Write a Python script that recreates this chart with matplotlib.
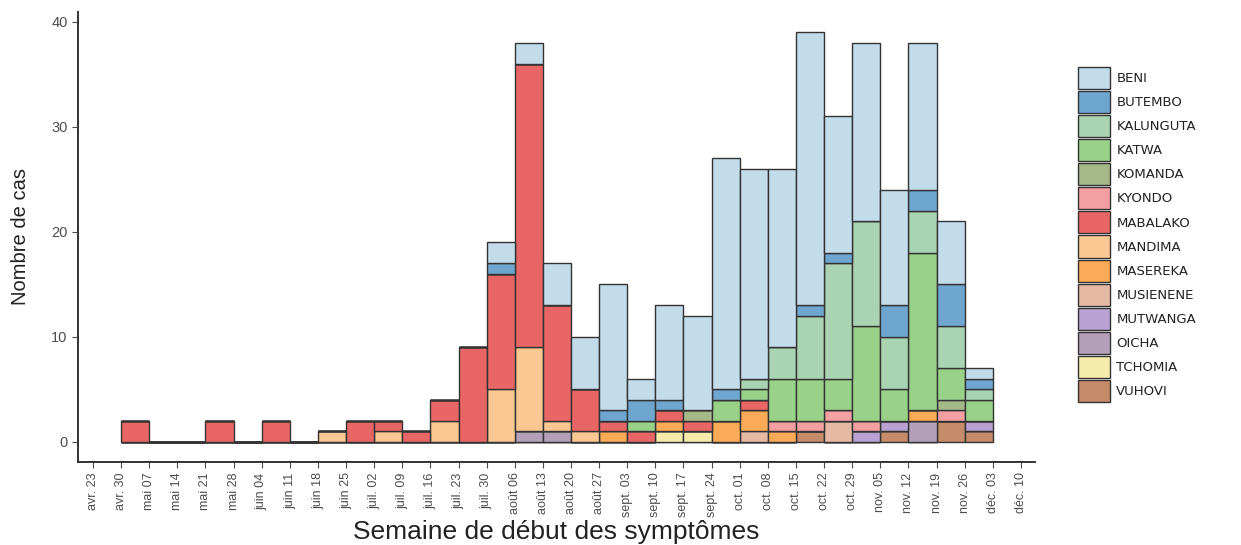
import matplotlib.pyplot as plt
import numpy as np

# weeks (start date of each week shown on the x axis)
week_labels = ['avr. 23', 'avr. 30', 'mai 07', 'mai 14', 'mai 21', 'mai 28', 'juin 04', 'juin 11',
               'juin 18', 'juin 25', 'juil. 02', 'juil. 09', 'juil. 16', 'juil. 23', 'juil. 30',
               'août 06', 'août 13', 'août 20', 'août 27', 'sept. 03', 'sept. 10', 'sept. 17',
               'sept. 24', 'oct. 01', 'oct. 08', 'oct. 15', 'oct. 22', 'oct. 29', 'nov. 05',
               'nov. 12', 'nov. 19', 'nov. 26', 'déc. 03', 'déc. 10']

# cases per week, from avr. 30 to nov. 26 (31 weeks)
beni      = [0,0,0,0,0,0,0,0,0,0,0,0,0, 2, 2, 4,5,12,2,9,9,22,20,17,26,13,17,11,14,6,1]
butembo   = [0,0,0,0,0,0,0,0,0,0,0,0,0, 1, 0, 0,0, 1,2,1,0, 1, 0, 0, 1, 1, 0, 3, 2,4,1]
kalunguta = [0,0,0,0,0,0,0,0,0,0,0,0,0, 0, 0, 0,0, 0,0,0,0, 0, 1, 3, 6,11,10, 5, 4,4,1]
katwa     = [0,0,0,0,0,0,0,0,0,0,0,0,0, 0, 0, 0,0, 0,1,0,0, 2, 1, 4, 4, 3, 9, 3,15,3,2]
komanda   = [0,0,0,0,0,0,0,0,0,0,0,0,0, 0, 0, 0,0, 0,0,0,1, 0, 0, 0, 0, 0, 0, 0, 0,1,0]
kyondo    = [0,0,0,0,0,0,0,0,0,0,0,0,0, 0, 0, 0,0, 0,0,0,0, 0, 0, 1, 1, 1, 1, 0, 0,1,0]
mabalako  = [2,0,0,2,0,2,0,0,2,1,1,2,9,11,27,11,4, 1,1,1,1, 0, 1, 0, 0, 0, 0, 0, 0,0,0]
mandima   = [0,0,0,0,0,0,0,1,0,1,0,2,0, 5, 8, 1,1, 0,0,0,0, 0, 0, 0, 0, 0, 0, 0, 0,0,0]
masereka  = [0,0,0,0,0,0,0,0,0,0,0,0,0, 0, 0, 0,0, 1,0,1,0, 2, 2, 1, 0, 0, 0, 0, 1,0,0]
musienene = [0,0,0,0,0,0,0,0,0,0,0,0,0, 0, 0, 0,0, 0,0,0,0, 0, 1, 0, 0, 2, 0, 0, 0,0,0]
mutwanga  = [0,0,0,0,0,0,0,0,0,0,0,0,0, 0, 0, 0,0, 0,0,0,0, 0, 0, 0, 0, 0, 1, 1, 0,0,1]
oicha     = [0,0,0,0,0,0,0,0,0,0,0,0,0, 0, 1, 1,0, 0,0,0,0, 0, 0, 0, 0, 0, 0, 0, 2,0,0]
tchomia   = [0,0,0,0,0,0,0,0,0,0,0,0,0, 0, 0, 0,0, 0,0,1,1, 0, 0, 0, 0, 0, 0, 0, 0,0,0]
vuhovi    = [0,0,0,0,0,0,0,0,0,0,0,0,0, 0, 0, 0,0, 0,0,0,0, 0, 0, 0, 1, 0, 0, 1, 0,2,1]

zones = ['BENI', 'BUTEMBO', 'KALUNGUTA', 'KATWA', 'KOMANDA', 'KYONDO', 'MABALAKO',
         'MANDIMA', 'MASEREKA', 'MUSIENENE', 'MUTWANGA', 'OICHA', 'TCHOMIA', 'VUHOVI']
series = [beni, butembo, kalunguta, katwa, komanda, kyondo, mabalako,
          mandima, masereka, musienene, mutwanga, oicha, tchomia, vuhovi]
colors = ['#c2dcea', '#6fa6d0', '#a9d3b1', '#9ad189', '#a4b888', '#f4a0a3', '#e96666',
          '#fbc893', '#fbab57', '#e6b9a5', '#b9a1d1', '#b4a0b9', '#f5ebab', '#c58a68']

plt.rcParams['font.family'] = ['Liberation Sans', 'DejaVu Sans']

fig = plt.figure(figsize=(12.41, 5.45), dpi=100)
ax = fig.add_axes([0.0629, 0.1523, 0.7711, 0.8257])

x = np.arange(1, len(beni) + 1)
bottom = np.zeros(len(beni))
handles = {}
# stack in reverse order so BENI ends on top
for name, vals, col in reversed(list(zip(zones, series, colors))):
    vals = np.array(vals, dtype=float)
    b = ax.bar(x, vals, width=1.0, bottom=bottom, align='edge', color=col,
               edgecolor='#333333', linewidth=1.0)
    handles[name] = b
    bottom += vals

ax.set_xlim(-0.53, 33.5)
ax.set_ylim(-1.95, 40.95)
ax.set_xticks(np.arange(len(week_labels)))
ax.set_xticklabels(week_labels, rotation=90, fontsize=9, color='#4d4d4d')
ax.set_yticks([0, 10, 20, 30, 40])
ax.tick_params(axis='y', labelsize=10.5, labelcolor='#4d4d4d', color='#4d4d4d', length=4)
ax.tick_params(axis='x', color='#4d4d4d', length=4)

for s in ['top', 'right']:
    ax.spines[s].set_visible(False)
for s in ['left', 'bottom']:
    ax.spines[s].set_linewidth(1.4)
    ax.spines[s].set_color('#333333')

ax.set_xlabel('Semaine de début des symptômes', fontsize=19, color='#222222', labelpad=2)
ax.set_ylabel('Nombre de cas', fontsize=14.5, color='#222222', labelpad=15)

leg = fig.legend([handles[z] for z in zones], zones, loc='upper left',
                 bbox_to_anchor=(0.8645, 0.887), frameon=False,
                 prop={'family': 'DejaVu Sans', 'size': 9.5},
                 handlelength=2.4, handleheight=2.2, labelspacing=0.15,
                 handletextpad=0.5, borderaxespad=0)
for t in leg.get_texts():
    t.set_color('#222222')

plt.savefig('out.png', dpi=100)
